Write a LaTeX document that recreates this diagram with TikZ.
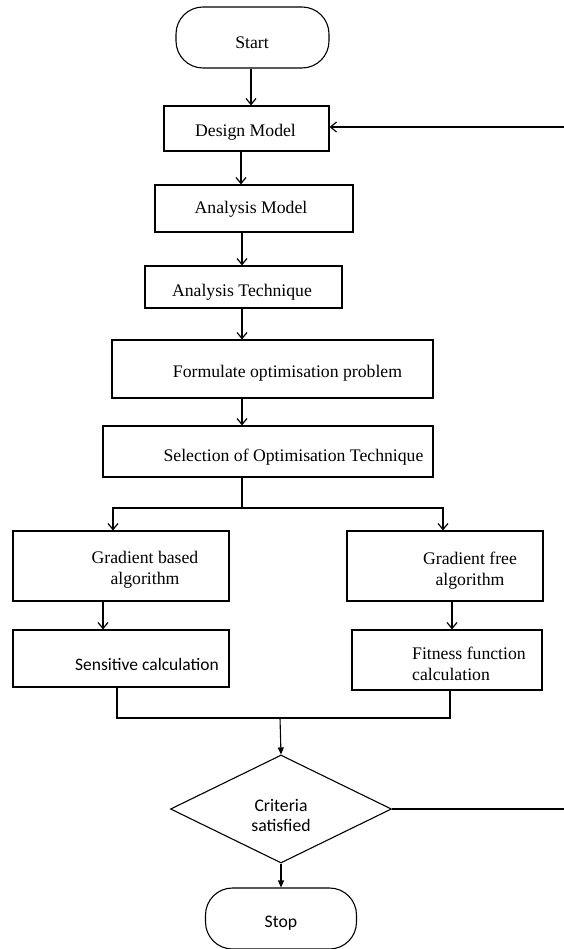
\documentclass[tikz,border=0pt]{standalone}
\usepackage{fontspec}
\setmainfont{Liberation Serif}
\newfontfamily\calfont{Carlito}
\usetikzlibrary{shapes.geometric,arrows.meta}
\begin{document}
\begin{tikzpicture}[x=1pt,y=-1pt,
  every node/.style={font=\fontsize{17.7}{21}\selectfont},
  boxnode/.style={draw,line width=1.2pt,inner sep=0pt,rectangle},
  termnode/.style={draw,line width=1.1pt,inner sep=0pt,rectangle,rounded corners=27pt},
  decnode/.style={draw,line width=1.1pt,inner sep=0pt,shape=diamond,minimum width=221pt,minimum height=108pt},
  lbl/.style={inner sep=0pt,align=center},
  conn/.style={line width=1.2pt},
  arr/.style={conn,-{Straight Barb[length=6pt,width=10pt,line width=1.2pt]}},
  farr/.style={line width=1.1pt,-{Triangle[length=7pt,width=6pt]}}]
\useasboundingbox (0,0) rectangle (564,949);
% boxes
\node[termnode,minimum width=153pt,minimum height=61pt] (start) at (252.5,37.5) {};
\node[boxnode,minimum width=165pt,minimum height=45pt] (design) at (246.5,128.5) {};
\node[boxnode,minimum width=198pt,minimum height=47pt] (amodel) at (254,208.5) {};
\node[boxnode,minimum width=197pt,minimum height=42pt] (atech) at (243.5,287) {};
\node[boxnode,minimum width=321pt,minimum height=58pt] (form) at (272.5,369) {};
\node[boxnode,minimum width=330pt,minimum height=51pt] (sel) at (268,451.5) {};
\node[boxnode,minimum width=216pt,minimum height=70pt] (gb) at (121,566) {};
\node[boxnode,minimum width=196pt,minimum height=70pt] (gf) at (445,566) {};
\node[boxnode,minimum width=216pt,minimum height=57pt] (sens) at (121,658.5) {};
\node[boxnode,minimum width=190pt,minimum height=60pt] (fit) at (447,660) {};
\node[decnode] (crit) at (281,809) {};
\node[termnode,minimum width=151pt,minimum height=61pt] (stop) at (281,918.5) {};
% texts
\node[lbl] (tstart) at (252,43) {Start};
\node[lbl] (tdesign) at (245.5,132) {Design Model};
\node[lbl] (tamodel) at (251,209) {Analysis Model};
\node[lbl] (tatech) at (242,292) {Analysis Technique};
\node[lbl] (tform) at (287.5,373) {Formulate optimisation problem};
\node[lbl] (tsel) at (293.5,457) {Selection of Optimisation Technique};
\node[lbl] (tgb) at (145,570) {Gradient based\\algorithm};
\node[lbl] (tgf) at (470,571) {Gradient free\\algorithm};
\node[lbl,font=\calfont\fontsize{17.5}{21}\selectfont] (tsens) at (147,664) {Sensitive calculation};
\node[lbl,align=left,anchor=west] (tfit) at (412,664) {Fitness function\\calculation};
\node[lbl,font=\calfont\fontsize{17.7}{20}\selectfont] (tcrit) at (281,815) {Criteria\\satisfied};
\node[lbl,font=\calfont\fontsize{17.7}{21}\selectfont] (tstop) at (281,923) {Stop};
% helper coordinates
\coordinate (split) at (242,508);
\coordinate (merge) at (280,718);
\coordinate (mleft) at (117,718);
\coordinate (mright) at (450,718);
\coordinate (loopin) at (564,127);
\coordinate (loopout) at (564,809);
% connectors
\draw[arr] (start.south -| 251,0) -- (design.north -| 251,0);
\draw[arr] (design.south -| 241,0) -- (amodel.north -| 241,0);
\draw[arr] (amodel.south -| 242,0) -- (atech.north -| 242,0);
\draw[arr] (atech.south -| 242,0) -- (form.north -| 242,0);
\draw[arr] (form.south -| 242,0) -- (sel.north -| 242,0);
\draw[conn] (sel.south -| split) -- (split);
\draw[arr] (split) -| (gb.north -| 113,0);
\draw[arr] (split) -| (gf.north -| 443,0);
\draw[arr] (gb.south -| 103,0) -- (sens.north -| 103,0);
\draw[arr] (gf.south -| 452,0) -- (fit.north -| 452,0);
\draw[conn] ([yshift=2pt]sens.south -| mleft) -- (mleft) -- (mright) -- (fit.south -| mright);
\draw[farr] (merge) -- (crit.north);
\draw[farr] (crit.south) -- (stop.north);
\draw[conn] (crit.east) -- (loopout);
\draw[arr] (loopin) -- (loopin -| design.east);
\end{tikzpicture}
\end{document}
